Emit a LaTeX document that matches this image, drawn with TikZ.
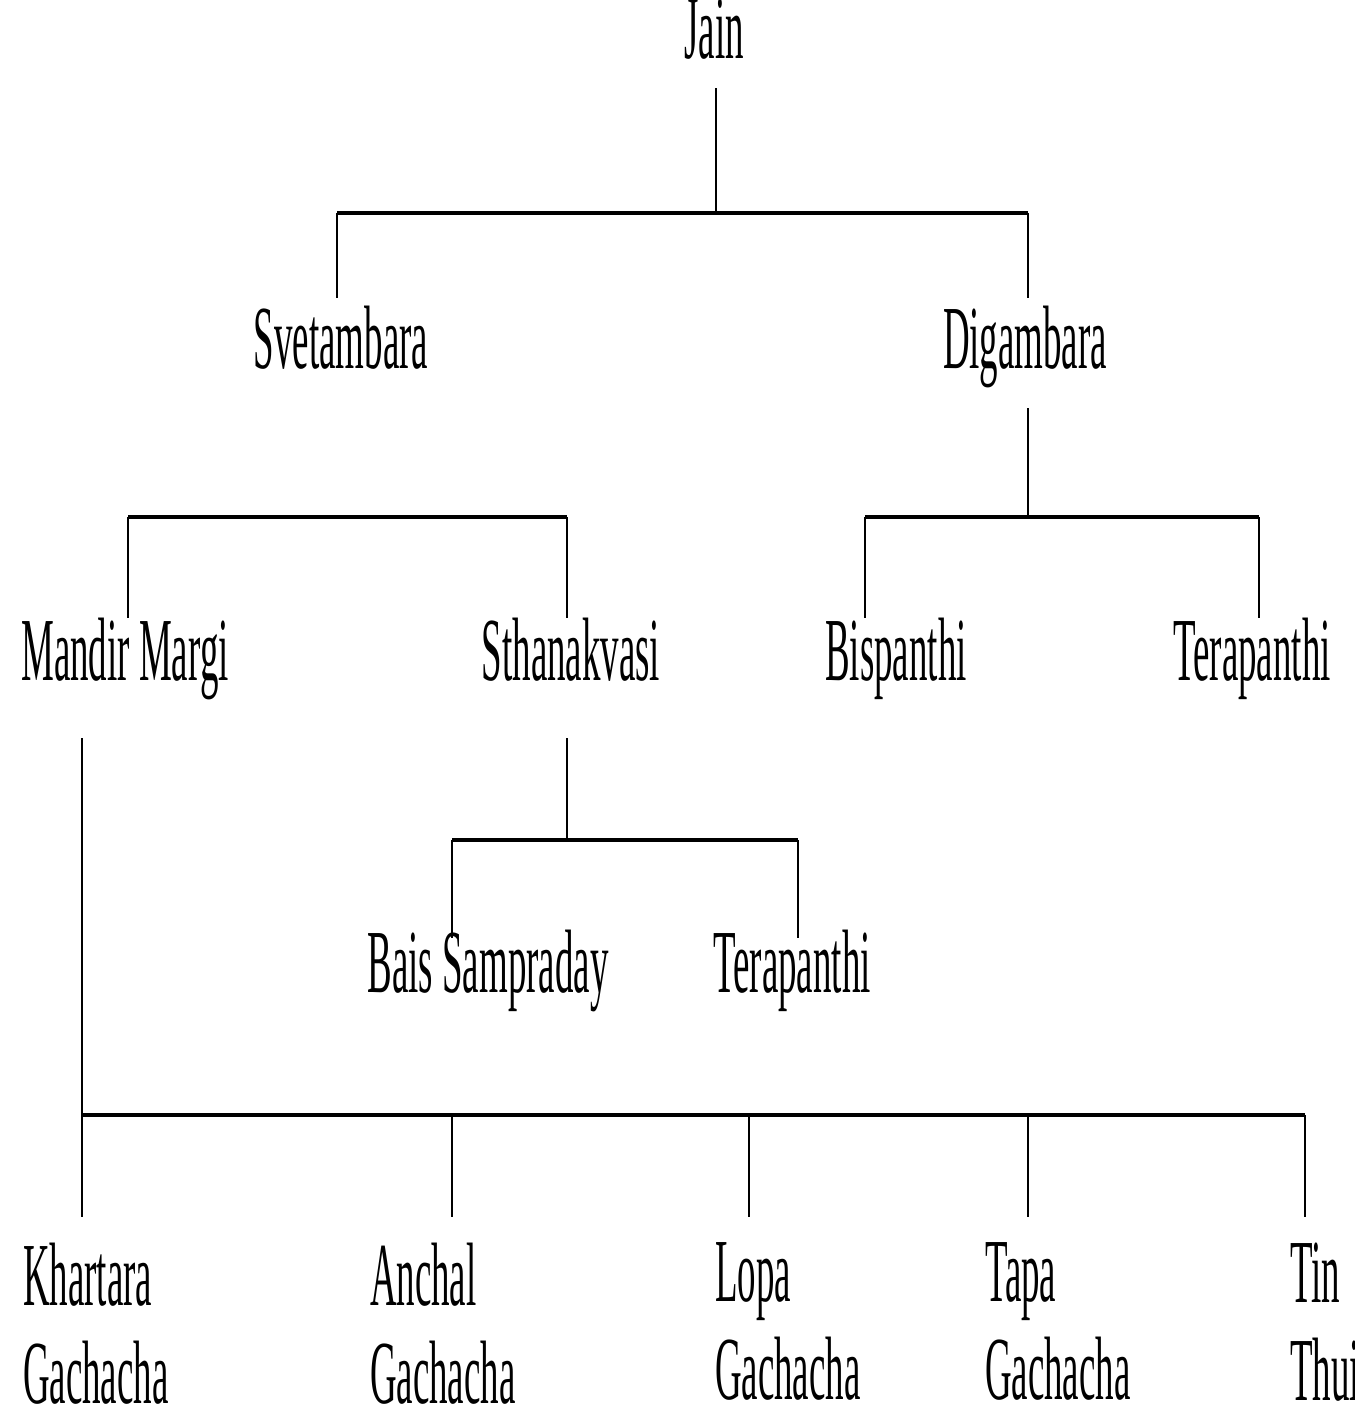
\documentclass[tikz,border=0pt]{standalone}
\usepackage{fontspec}
\setmainfont{Liberation Serif}
\usepackage{graphicx}
\newcommand\cond[1]{\scalebox{0.41}[1]{#1}}
\newcommand\sectfont{\fontsize{25.6pt}{27.8pt}\selectfont}
\tikzstyle{sect} = [
    inner sep=0pt, outer sep=0pt,
    font=\sectfont, anchor=base
]
\tikzstyle{leaf} = [
    inner sep=0pt, outer xsep=0pt, outer ysep=0.26cm, % gap above the text
    font=\sectfont, align=left, anchor=north west
]
\tikzstyle{stem} = [line width=0.6pt]
\tikzstyle{bar} = [line width=1.3pt]

\begin{document}
\begin{tikzpicture}[x=0.01cm, y=-0.01cm]
        \useasboundingbox (0,0) rectangle (1355,1415);

        % Root
        \node[sect, text depth=0.30cm] (jain) at (714,58) {\cond{Jain}};

        % Two main sects
        \node[sect, text height=0.70cm, text depth=0.40cm] (svet) at (341,368) {\cond{Svetambara}};
        \node[sect, text height=0.70cm, text depth=0.40cm] (digam) at (1025,368) {\cond{Digambara}};

        % Sub-sects
        \node[sect, text height=0.62cm, text depth=0.58cm] (mandir) at (125,680) {\cond{Mandir Margi}};
        \node[sect, text height=0.62cm, text depth=0.58cm] (sthan) at (571,680) {\cond{Sthanakvasi}};
        \node[sect, text height=0.62cm, text depth=0.58cm] (bis) at (896,680) {\cond{Bispanthi}};
        \node[sect, text height=0.62cm, text depth=0.58cm] (tera) at (1252,680) {\cond{Terapanthi}};

        \node[sect, text height=0.54cm] (bais) at (488,992) {\cond{Bais Sampraday}};
        \node[sect, text height=0.54cm] (teraB) at (792,992) {\cond{Terapanthi}};

        % Gachachas
        \node[leaf] (khar) at (23,1217) {\cond{Khartara}\\\cond{Gachacha}};
        \node[leaf] (anchal) at (370,1217) {\cond{Anchal}\\\cond{Gachacha}};
        \node[leaf] (lopa) at (715,1217) {\cond{Lopa}\\\cond{Gachacha}};
        \node[leaf] (tapa) at (985,1217) {\cond{Tapa}\\\cond{Gachacha}};
        \node[leaf] (tin) at (1290,1217) {\cond{Tin}\\\cond{Thui}};

        % Junction points
        \coordinate (jainJ) at (716,213);
        \coordinate (topL) at (337,213);
        \coordinate (topR) at (1028,213);
        \coordinate (svetL) at (128,517);
        \coordinate (svetR) at (567,517);
        \coordinate (digL) at (865,517);
        \coordinate (digR) at (1259,517);
        \coordinate (sthL) at (452,840);
        \coordinate (sthR) at (798,840);
        \coordinate (mandJ) at (82,1115);
        \coordinate (gA) at (452,1115);
        \coordinate (gL) at (749,1115);
        \coordinate (gT) at (1028,1115);
        \coordinate (gN) at (1305,1115);

        % Jain to the two sects
        \draw[stem] (jain.south -| jainJ) -- (jainJ);
        \draw[bar] (topL) -- (topR);
        \draw[stem] (topL) -- (svet.north -| topL);
        \draw[stem] (topR) -- (digam.north -| topR);

        % Svetambara branch
        \draw[stem] (svet.south -| topL) -- (svet.south -| topL |- svetL);
        \draw[bar] (svetL) -- (svetR);
        \draw[stem] (svetL) -- (mandir.north -| svetL);
        \draw[stem] (svetR) -- (sthan.north -| svetR);

        % Digambara branch
        \draw[stem] (digam.south -| topR) -- (topR |- digL);
        \draw[bar] (digL) -- (digR);
        \draw[stem] (digL) -- (bis.north -| digL);
        \draw[stem] (digR) -- (tera.north -| digR);

        % Sthanakvasi branch
        \draw[stem] (sthan.south -| svetR) -- (svetR |- sthL);
        \draw[bar] (sthL) -- (sthR);
        \draw[stem] (sthL) -- (bais.north -| sthL);
        \draw[stem] (sthR) -- (teraB.north -| sthR);

        % Mandir Margi branch
        \draw[stem] (mandir.south -| mandJ) -- (khar.north -| mandJ);
        \draw[bar] (mandJ) -- (gN);
        \foreach \g/\t in {gA/anchal, gL/lopa, gT/tapa, gN/tin}
            \draw[stem] (\g) -- (\t.north -| \g);

    \end{tikzpicture}
\end{document}
